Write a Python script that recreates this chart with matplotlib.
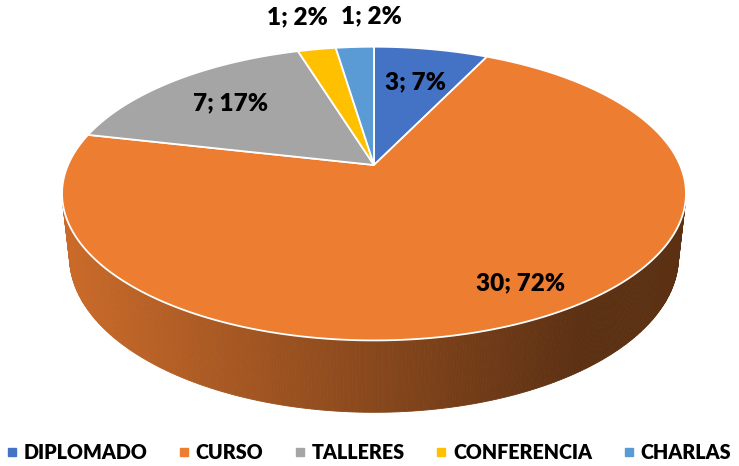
import numpy as np
import matplotlib
matplotlib.use('Agg')
import matplotlib.pyplot as plt
from matplotlib.patches import Polygon
from matplotlib.lines import Line2D

categories = ['DIPLOMADO', 'CURSO', 'TALLERES', 'CONFERENCIA', 'CHARLAS']
values = [3, 30, 7, 1, 1]
percent_labels = ['7%', '72%', '17%', '2%', '2%']
colors = ['#4472C4', '#ED7D31', '#A5A5A5', '#FFC000', '#5B9BD5']

# 3d view settings (tuned by eye)
cx, cy = 374, 165
dist = 4.56
elev = np.radians(27.5)
focal = 306 * dist
thick = 0.235

def project(x, y, z):
    depth = y * np.cos(elev) + dist - z * np.sin(elev)
    up = y * np.sin(elev) + z * np.cos(elev)
    return cx + focal * x / depth, cy - focal * up / depth

fig = plt.figure(figsize=(7.39, 4.66), dpi=100)
ax = fig.add_axes([0, 0, 1, 1])
ax.set_xlim(0, 739)
ax.set_ylim(466, 0)
ax.axis('off')

total = sum(values)
# angles: start at 12 o'clock, clockwise
bounds = 90 - 360 * np.concatenate([[0], np.cumsum(values)]) / total

# silhouette of the cylinder side
s = -1 / (dist * np.cos(elev))
t_left = np.degrees(np.pi - np.arcsin(s))   # ~194
t_right = np.degrees(2 * np.pi + np.arcsin(s))  # ~346

def shade(x):
    f = np.clip((x - 70) / 507, 0, 1)
    return 0.85 - 0.46 * f

# side wall
for i in range(len(values)):
    a1, a0 = bounds[i], bounds[i + 1]  # a0 < a1
    for off in (0, 360, -360):
        lo = max(a0 + off, t_left)
        hi = min(a1 + off, t_right)
        if hi <= lo:
            continue
        ts = np.radians(np.linspace(lo, hi, int((hi - lo) * 2) + 2))
        base = np.array(matplotlib.colors.to_rgb(colors[i]))
        for j in range(len(ts) - 1):
            t1, t2 = ts[j], ts[j + 1]
            p = [project(np.cos(t1), np.sin(t1), 0), project(np.cos(t2), np.sin(t2), 0),
                 project(np.cos(t2), np.sin(t2), -thick), project(np.cos(t1), np.sin(t1), -thick)]
            xm = np.mean([q[0] for q in p])
            ax.add_patch(Polygon(p, closed=True, facecolor=base * shade(xm),
                                 edgecolor=base * shade(xm), lw=0.6))

# top face
for i in range(len(values)):
    ts = np.radians(np.linspace(bounds[i], bounds[i + 1], 200))
    pts = [project(0, 0, 0)] + [project(np.cos(t), np.sin(t), 0) for t in ts]
    ax.add_patch(Polygon(pts, closed=True, facecolor=colors[i], edgecolor='white', lw=1.3))

# labels
label_r = [0.68, 0.83, 0.70, 1.35, 1.35]
label_dt = [0, 4, 0, 0, 0]
label_shift = [(0, 0), (0, 0), (0, 0), (-3, 0), (22, 2)]
for i in range(len(values)):
    t = np.radians((bounds[i] + bounds[i + 1]) / 2 + label_dt[i])
    lx, ly = project(label_r[i] * np.cos(t), label_r[i] * np.sin(t), 0)
    lx += label_shift[i][0]
    ly += label_shift[i][1]
    ax.text(lx, ly, f'{values[i]}; {percent_labels[i]}', ha='center', va='center',
            fontsize=17.5, fontweight='heavy', family='Lato', color='black')

handles = [Line2D([], [], marker='s', linestyle='', markersize=6, color=c) for c in colors]
fig.legend(handles, categories, loc='lower center', bbox_to_anchor=(0.5, -0.03), ncol=5,
           frameon=False, handlelength=0.4, handletextpad=0.4, columnspacing=1.65,
           prop={'family': 'Lato', 'weight': 'heavy', 'size': 14.2})

fig.savefig('out.png', dpi=100)
